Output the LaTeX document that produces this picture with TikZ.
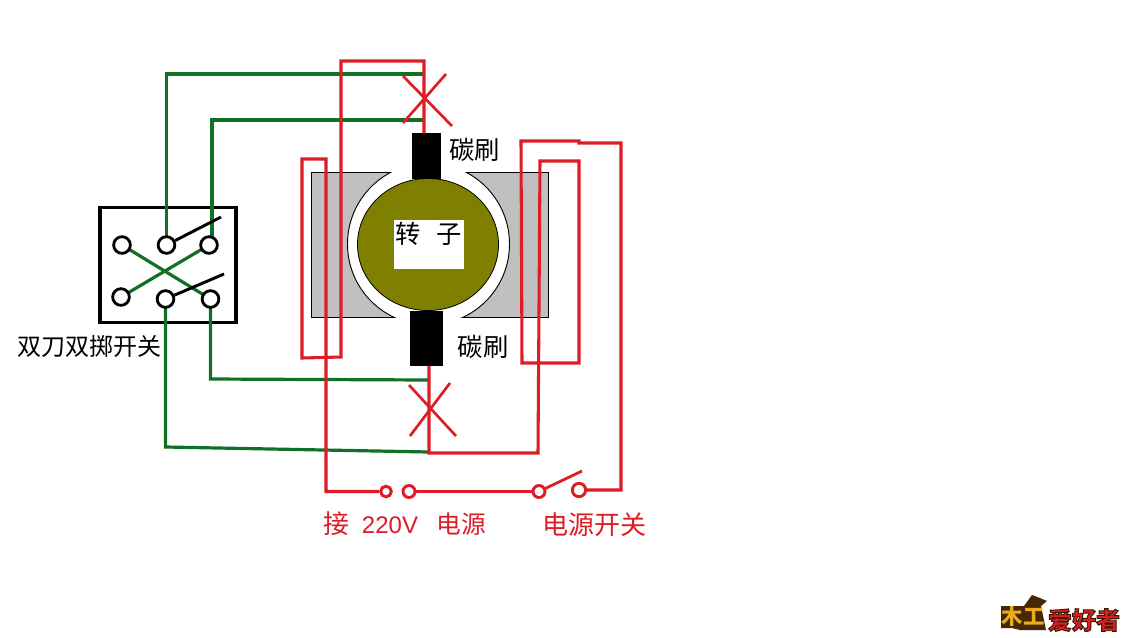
\documentclass[tikz,border=0pt]{standalone}
\usepackage{fontspec}
\newfontfamily\cjk{Noto Sans CJK SC}
\setmainfont{Liberation Sans}
\definecolor{wgreen}{RGB}{18,112,38}
\definecolor{wred}{RGB}{222,28,38}
\definecolor{rotor}{RGB}{128,128,0}
\definecolor{stator}{RGB}{192,192,192}
\definecolor{logogold}{RGB}{236,170,30}
\definecolor{logobrown}{RGB}{70,40,5}
\newcommand{\outlined}[1]{\special{pdf:code q 2 Tr 0.7 w 0.2 0.1 0 RG}#1\special{pdf:code Q}}
\tikzset{
  greenwire/.style={draw=wgreen,line width=2.4pt,line join=miter},
  redwire/.style={draw=wred,line width=2.3pt,line join=miter},
  blade/.style={draw=black,line width=2.2pt},
  swpole/.style={circle,draw=black,line width=2.1pt,fill=white,inner sep=0pt,minimum size=12.5pt},
  pwrpole/.style={circle,draw=wred,line width=2.2pt,fill=white,inner sep=0pt,minimum size=8pt},
  crossmark/.style={draw=wred,line width=2pt},
  blacklabel/.style={inner sep=0pt,font=\cjk\fontsize{19}{20}\selectfont,text=black},
  redlabel/.style={inner sep=0pt,font=\cjk\fontsize{19.5}{20}\selectfont,text=wred},
  brush/.style={fill=black,draw=none,inner sep=0pt}
}
\begin{document}
\begin{tikzpicture}[x=0.75pt,y=-0.75pt]
\useasboundingbox (0,0) rectangle (1132,637);
\fill[white] (0,0) rectangle (1132,637);

% stator
\fill[stator,draw=black,line width=0.7pt] (311,172) rectangle (548,317);
\begin{scope}
  \clip (311,172) rectangle (548,317);
  \draw[black,fill=white,line width=0.7pt] (428.5,244) circle [radius=81];
\end{scope}
\fill[white] (397,168) rectangle (454,175);
\fill[white] (398,313) rectangle (457,320);
% rotor
\fill[rotor,draw=black,line width=0.6pt] (428,244.5) ellipse [x radius=70.5,y radius=66];
\node[fill=white,inner sep=0pt,minimum width=52.5pt,minimum height=36.75pt] (rotorbox) at (429,244.5) {};
\node[blacklabel,anchor=center] (rotortext) at (428.5,234) {转\hspace{0.6em}子};
% brushes
\node[brush,minimum width=21.75pt,minimum height=34.5pt] (brushA) at (426.5,156) {};
\node[brush,minimum width=24.75pt,minimum height=41.25pt] (brushB) at (426.5,338.5) {};
\node[blacklabel] (labelA) at (474.5,150) {碳刷};
\node[blacklabel] (labelB) at (483,347) {碳刷};

% switch
\node[draw=black,line width=2.5pt,minimum width=102pt,minimum height=86.25pt,inner sep=0pt] (swbox) at (168,265) {};
\node[blacklabel,font=\cjk\fontsize{18}{20}\selectfont] (swlabel) at (89,346) {双刀双掷开关};

% coordinates
\coordinate (g1a) at (166.5,74);
\coordinate (g1b) at (424,74);
\coordinate (g2a) at (212,120);
\coordinate (g2b) at (424,120);
\coordinate (g3a) at (165.5,447);
\coordinate (g3b) at (429,452);
\coordinate (g4a) at (210.5,379);
\coordinate (g4b) at (429,380);

% switch poles
\coordinate (pa) at (122,245);
\coordinate (pb) at (166.5,245);
\coordinate (pc) at (209,245);
\coordinate (pd) at (121,297);
\coordinate (pe) at (165.5,299);
\coordinate (pf) at (210.5,299);
\coordinate (pcw) at (212,240);

% green wires
\draw[greenwire] (pb) -- (g1a) -- (g1b);
\draw[greenwire] (pcw) -- (g2a) -- (g2b);
\draw[greenwire] (pe) -- (g3a) -- (g3b);
\draw[greenwire] (pf) -- (g4a) -- (g4b);
\draw[greenwire] (pa) -- (pf);
\draw[greenwire] (pd) -- (pc);

\node[swpole] (sa) at (pa) {};
\node[swpole] (sb) at (pb) {};
\node[swpole] (sc) at (pc) {};
\node[swpole] (sd) at (pd) {};
\node[swpole] (se) at (pe) {};
\node[swpole] (sf) at (pf) {};
\coordinate (ba) at (221,217);
\coordinate (bb) at (224,274);
\draw[blade] (sb) -- (ba);
\draw[blade] (se) -- (bb);

% power poles
\node[pwrpole] (p1) at (386,491.5) {};
\node[pwrpole,minimum size=9pt] (p2) at (409,491.5) {};
\node[pwrpole,minimum size=9pt] (p3) at (539,491.5) {};
\node[pwrpole,minimum size=10pt] (p4) at (579,490) {};
\coordinate (sw) at (582,471);
\draw[draw=wred,line width=2.1pt] (p3) -- (sw);

% red wires
\coordinate (ta) at (341,61);
\coordinate (tb) at (424,61);
\coordinate (tc) at (424,133);
\coordinate (la) at (341,357);
\coordinate (lb) at (302,358);
\coordinate (lc) at (302,159);
\coordinate (ld) at (326,159);
\coordinate (le) at (326,491.5);
\draw[redwire] (tc) -- (tb) -- (ta) -- (la) -- (lb) -- (lc) -- (ld) -- (le) -- (p1);
\coordinate (ra) at (521,141);
\coordinate (rb) at (579,141);
\coordinate (rb2) at (579,143);
\coordinate (rc) at (621,143);
\coordinate (rd) at (621,490);
\coordinate (re) at (522,363);
\coordinate (rf) at (579,363);
\coordinate (rg) at (579,161);
\coordinate (rh) at (540,161);
\coordinate (ri) at (538,453);
\coordinate (rj) at (429,453);
\coordinate (rk) at (429,366);
\draw[redwire] (p4) -- (rd) -- (rc) -- (rb2) -- (rb) -- (ra) -- (re) -- (rf) -- (rg) -- (rh) -- (ri) -- (rj) -- (rk);
\draw[redwire] (p2) -- (p3);

% crossed-out marks
\coordinate (xa1) at (403,76);
\coordinate (xa2) at (452,126);
\coordinate (xa3) at (446,74);
\coordinate (xa4) at (403,123);
\coordinate (xb1) at (409,385);
\coordinate (xb2) at (456,436);
\coordinate (xb3) at (450,383);
\coordinate (xb4) at (410,436);
\draw[crossmark] (xa1) -- (xa2);
\draw[crossmark] (xa3) -- (xa4);
\draw[crossmark] (xb1) -- (xb2);
\draw[crossmark] (xb3) -- (xb4);

% red labels
\node[redlabel] (srcA) at (336,524) {接};
\node[redlabel,font=\fontsize{18}{20}\selectfont] (srcB) at (390,525) {220V};
\node[redlabel,font=\cjk\fontsize{18.5}{20}\selectfont] (srcC) at (461,524) {电源};
\node[redlabel] (pwrsw) at (594,525) {电源开关};

% logo
\fill[logobrown] (1032,595) -- (1040,598) -- (1047,601) -- (1041,606) -- (1046,630) -- (1020,630) -- (1012,628) -- (1001,628) -- (1001,606) -- (1024,606) -- cycle;
\node[inner sep=0pt,font=\cjk\bfseries\fontsize{16}{16}\selectfont,text=logogold] (logoA) at (1023,616) {木工};
\node[inner sep=0pt,font=\cjk\bfseries\fontsize{18}{18}\selectfont,text=wred] (logoB) at (1084,620) {\outlined{爱好者}};
\end{tikzpicture}
\end{document}
